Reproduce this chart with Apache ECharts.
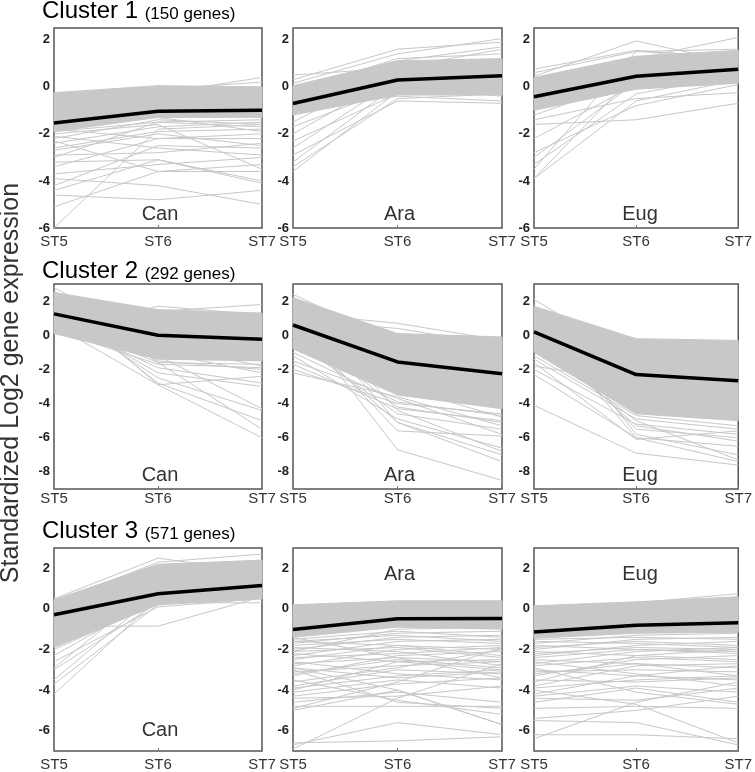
<!DOCTYPE html>
<html><head><meta charset="utf-8">
<script src="https://cdn.jsdelivr.net/npm/echarts/dist/echarts.min.js"></script>
<style>html,body{margin:0;padding:0;background:#fff}#c{width:755px;height:772px}</style>
</head><body><div id="c"></div>
<script>
// ---------- data ----------
const categories = ['ST5', 'ST6', 'ST7'];
const clusterTitles = ['Cluster 1', 'Cluster 2', 'Cluster 3'];
const geneCounts = ['(150 genes)', '(292 genes)', '(571 genes)'];
const tissues = ['Can', 'Ara', 'Eug'];
const yTickLabels = [[-6, -4, -2, 0, 2], [-8, -6, -4, -2, 0, 2], [-6, -4, -2, 0, 2]];
const rowMin = [-6, -9, -7];
const rowMax = [2.5, 3, 3];

// Cluster 1
const mean_c1_can = [-1.54, -1.04, -1.0];
const lo_c1_can = [-1.9, -1.3, -1.3];
const hi_c1_can = [-0.25, 0.05, 0.0];
const lines_c1_can = [
  [-6.0, -1.8, -1.6], [-5.1, -3.6, -3.3], [-4.6, -4.8, -4.4], [-4.4, -3.1, -4.1],
  [-4.2, -2.5, -2.6], [-3.9, -4.2, -5.0], [-3.7, -3.3, -3.0], [-3.4, -2.2, -2.0],
  [-3.2, -3.1, -4.0], [-2.9, -2.8, -2.4], [-2.6, -1.9, -1.8], [-2.3, -3.6, -3.6],
  [-2.1, -2.6, -2.9], [-2.0, -1.6, -3.5], [-1.8, -2.2, -2.2], [-1.2, -0.3, 0.4],
  [-1.6, -1.3, -1.9], [-0.5, -0.1, 0.2], [-1.9, -1.5, -1.4], [-2.4, -1.7, -1.5],
  [-2.2, -1.4, -1.6], [-2.7, -2.0, -2.5], [-3.0, -1.5, -1.7]
];
const mean_c1_ara = [-0.71, 0.29, 0.47];
const lo_c1_ara = [-1.2, -0.35, -0.35];
const hi_c1_ara = [0.05, 1.1, 1.2];
const lines_c1_ara = [
  [-3.6, -0.2, 0.3], [-3.4, -0.5, -0.3], [-3.2, 0.1, 0.6], [-2.9, -0.6, -0.7],
  [-2.6, 0.3, 0.2], [-2.3, -0.3, 0.0], [-2.0, 0.5, 1.2], [-1.7, 0.0, -0.4],
  [-1.5, 0.8, 1.6], [0.5, 0.8, 0.5], [0.3, 1.6, 1.9], [0.15, 1.4, 2.05],
  [0.0, 1.1, 1.7], [-0.2, 1.2, 1.4], [-1.0, -0.4, -0.6], [-0.6, 0.9, 1.0]
];
const mean_c1_eug = [-0.42, 0.45, 0.75];
const lo_c1_eug = [-1.0, -0.1, 0.15];
const hi_c1_eug = [0.4, 1.3, 1.55];
const lines_c1_eug = [
  [-3.9, 0.6, 1.0], [-3.9, -0.6, 0.3], [-3.5, 1.5, 1.3], [-3.3, -0.3, 0.5],
  [-3.0, 0.2, 0.8], [-2.8, -0.8, 0.1], [-2.2, 0.1, 0.4], [-1.6, -1.4, -0.7],
  [-1.4, -0.5, -0.25], [-1.2, 0.3, 0.6], [0.75, 1.55, 1.2], [0.6, 1.5, 1.6],
  [0.45, 1.95, 1.0], [0.2, 1.2, 2.1], [-0.8, 0.6, 1.4]
];

// Cluster 2
const mean_c2_can = [1.25, 0.0, -0.24];
const lo_c2_can = [0.1, -1.4, -1.5];
const hi_c2_can = [2.5, 1.5, 1.3];
const lines_c2_can = [
  [2.8, -0.6, -1.8], [2.6, -1.6, -5.5], [2.3, -2.9, -6.0], [2.0, -2.8, -5.0],
  [1.8, -1.2, -4.3], [1.5, -2.5, -4.4], [1.2, -2.2, -3.0], [0.9, -1.9, -2.8],
  [0.6, -2.9, -2.4], [0.3, -1.7, -1.9], [0.1, 1.7, 1.2], [0.4, 1.4, 1.8],
  [0.2, -1.0, -2.2], [2.2, 0.5, -0.8], [1.6, -1.5, -2.0], [0.8, -1.6, -1.7]
];
const mean_c2_ara = [0.6, -1.56, -2.26];
const lo_c2_ara = [-0.8, -3.5, -4.3];
const hi_c2_ara = [2.2, 0.1, -0.1];
const lines_c2_ara = [
  [2.2, -4.4, -6.8], [1.8, -5.1, -7.4], [1.2, -6.7, -8.5], [0.8, -5.6, -5.9],
  [0.2, -5.1, -7.0], [-0.3, -4.6, -5.5], [-1.2, -4.9, -6.6], [-1.5, -3.7, -5.8],
  [-1.7, -4.3, -5.0], [-2.0, -4.0, -4.6], [-2.2, -3.6, -5.3], [1.3, 0.7, -0.3],
  [0.9, 0.4, -0.6], [1.1, -3.0, -4.8], [2.4, -0.5, -1.2], [-1.0, -3.9, -4.7],
  [0.5, -4.2, -5.1]
];
const mean_c2_eug = [0.2, -2.3, -2.67];
const lo_c2_eug = [-1.0, -4.6, -5.0];
const hi_c2_eug = [1.7, -0.2, -0.3];
const lines_c2_eug = [
  [-4.1, -6.9, -7.6], [-2.3, -6.0, -7.4], [-2.0, -5.2, -5.8], [-1.6, -6.1, -5.6],
  [1.8, -5.8, -7.0], [1.0, -6.0, -6.5], [0.5, -5.5, -6.0], [-0.5, -5.0, -7.3],
  [-1.2, -4.7, -5.3], [2.1, -1.5, -2.0], [-1.8, -2.8, -3.5], [-1.4, -4.9, -5.5],
  [0.0, -5.3, -6.2]
];

// Cluster 3
const mean_c3_can = [-0.29, 0.75, 1.15];
const lo_c3_can = [-1.9, 0.2, 0.5];
const hi_c3_can = [0.45, 2.2, 2.4];
const lines_c3_can = [
  [-4.2, 0.5, 0.9], [-3.7, 0.2, 1.1], [-3.5, 0.8, 1.4], [-3.0, 0.3, 0.7],
  [-2.9, 1.2, 1.6], [-2.6, 0.1, 0.5], [-0.85, -0.85, 0.6], [-2.0, 0.3, 0.3],
  [0.5, 2.5, 1.8], [0.3, 2.3, 2.7], [-0.5, 2.1, 2.4], [-2.3, 0.6, 1.0]
];
const mean_c3_ara = [-1.02, -0.49, -0.47];
const lo_c3_ara = [-1.4, -0.9, -1.0];
const hi_c3_ara = [0.2, 0.4, 0.4];
const lines_c3_ara = [
  [-6.9, -4.4, -2.7], [-6.7, -5.6, -6.2], [-6.6, -6.5, -6.3], [-5.0, -4.0, -5.7],
  [-4.8, -4.8, -4.8], [-4.6, -4.1, -4.6], [-4.4, -4.3, -3.8], [-4.3, -3.7, -3.4],
  [-4.0, -2.6, -2.5], [-3.8, -3.0, -3.2], [-3.5, -4.5, -5.2], [-3.3, -2.3, -2.1],
  [-3.1, -2.8, -2.6], [-3.0, -4.6, -4.9], [-2.8, -2.0, -1.8], [-2.6, -3.2, -3.5],
  [-2.5, -1.8, -2.3], [-2.3, -1.6, -1.5], [-2.2, -2.6, -3.0], [-2.0, -1.4, -1.3],
  [-1.9, -2.1, -2.8], [-1.7, -1.2, -1.1], [-1.6, -1.8, -2.0], [-1.5, -1.1, -1.4],
  [-4.9, -3.6, -1.9], [-2.9, -4.0, -5.7], [-1.4, -2.4, -3.4], [-2.1, -1.0, -0.9],
  [-3.6, -2.9, -2.0], [-1.8, -1.5, -1.7], [-2.4, -2.2, -1.9], [-2.7, -2.4, -2.6],
  [-3.2, -2.5, -2.9], [-2.1, -1.9, -2.4], [-1.6, -1.3, -1.6], [-3.9, -3.3, -3.0],
  [-2.9, -3.4, -3.1], [-4.1, -3.5, -3.9]
];
const mean_c3_eug = [-1.14, -0.81, -0.68];
const lo_c3_eug = [-1.45, -1.2, -1.15];
const hi_c3_eug = [0.15, 0.35, 0.6];
const lines_c3_eug = [
  [-6.4, -4.6, -3.6], [-6.2, -6.2, -6.4], [-5.5, -5.6, -6.7], [-5.4, -5.0, -4.3],
  [-4.9, -4.8, -4.9], [-4.6, -3.9, -4.6], [-4.4, -4.5, -3.9], [-4.2, -3.3, -3.5],
  [-4.0, -4.7, -6.6], [-3.8, -2.8, -2.7], [-3.5, -3.6, -3.4], [-3.3, -2.5, -2.3],
  [-3.1, -3.0, -3.1], [-2.9, -4.1, -4.7], [-2.7, -2.1, -1.9], [-2.5, -2.7, -2.9],
  [-2.3, -1.8, -1.6], [-2.1, -2.3, -2.5], [-2.0, -1.5, -1.4], [-1.8, -2.0, -2.2],
  [-1.7, -1.3, -1.2], [-1.6, -1.7, -1.9], [-2.6, -3.2, -3.8], [-3.6, -2.3, -2.0],
  [0.1, 0.3, 0.75], [-1.9, -1.6, -1.8], [-2.4, -2.0, -2.1], [-2.8, -2.4, -2.6],
  [-3.2, -2.7, -3.3], [-2.2, -1.9, -2.0], [-1.5, -1.4, -1.5], [-3.9, -3.5, -3.3],
  [-3.0, -3.3, -2.8], [-4.3, -3.8, -4.1]
];

// ---------- layout ----------
const colLeft = [54, 293, 534];
const colWidth = [208, 209, 208];
const rowTop = [28, 284, 548];
const rowHeight = [200, 205, 204];
const xLabelMargin = [6, 2, 6];
const titleY = [11, 271, 531];
const tissueLabelY = [[214, 214, 214], [475, 475, 475], [730, 574, 574]];

const panels = [
  [mean_c1_can, lo_c1_can, hi_c1_can, lines_c1_can],
  [mean_c1_ara, lo_c1_ara, hi_c1_ara, lines_c1_ara],
  [mean_c1_eug, lo_c1_eug, hi_c1_eug, lines_c1_eug],
  [mean_c2_can, lo_c2_can, hi_c2_can, lines_c2_can],
  [mean_c2_ara, lo_c2_ara, hi_c2_ara, lines_c2_ara],
  [mean_c2_eug, lo_c2_eug, hi_c2_eug, lines_c2_eug],
  [mean_c3_can, lo_c3_can, hi_c3_can, lines_c3_can],
  [mean_c3_ara, lo_c3_ara, hi_c3_ara, lines_c3_ara],
  [mean_c3_eug, lo_c3_eug, hi_c3_eug, lines_c3_eug]
];

const GRAY = '#c8c8c8';
const TEXT = '#333';
const tickFont = "'Liberation Sans Narrow', 'Arial Narrow', 'Liberation Sans', Arial, sans-serif";
const mainFont = "'Liberation Sans', Arial, Helvetica, sans-serif";

const grids = [], xAxes = [], yAxes = [], series = [], graphics = [];

function makeBand(lo, hi) {
  return function (params, api) {
    const i = api.value(0);
    const pts = [
      api.coord([i, hi[i]]), api.coord([i + 1, hi[i + 1]]),
      api.coord([i + 1, lo[i + 1]]), api.coord([i, lo[i]])
    ];
    return { type: 'polygon', shape: { points: pts }, style: { fill: GRAY, stroke: GRAY, lineWidth: 1, lineJoin: 'round' } };
  };
}

panels.forEach((p, idx) => {
  const r = Math.floor(idx / 3), c = idx % 3;
  const [mean, lo, hi, lines] = p;
  const labels = yTickLabels[r];
  grids.push({
    left: colLeft[c], top: rowTop[r], width: colWidth[c], height: rowHeight[r],
    show: true, borderColor: '#555', borderWidth: 1.5, backgroundColor: 'transparent'
  });
  xAxes.push({
    type: 'category', gridIndex: idx, data: categories, boundaryGap: false, position: 'bottom',
    axisLine: { show: false, onZero: false },
    axisTick: { show: true, inside: true, length: 3, lineStyle: { color: '#777' } },
    axisLabel: { color: TEXT, fontSize: 15, fontFamily: mainFont, margin: xLabelMargin[r] },
    splitLine: { show: false }
  });
  yAxes.push({
    type: 'value', gridIndex: idx, min: rowMin[r], max: rowMax[r], interval: 1,
    axisLine: { show: false, onZero: false }, axisTick: { show: false }, splitLine: { show: false },
    axisLabel: {
      color: '#222', fontSize: 13, fontWeight: 'bold', fontFamily: tickFont, margin: 4,
      formatter: v => (labels.indexOf(v) >= 0 ? String(v) : '')
    }
  });
  series.push({
    type: 'custom', xAxisIndex: idx, yAxisIndex: idx, silent: true, z: 1,
    renderItem: makeBand(lo, hi), data: [[0, lo[0]], [1, lo[1]]]
  });
  series.push({
    type: 'lines', coordinateSystem: 'cartesian2d', xAxisIndex: idx, yAxisIndex: idx,
    polyline: true, silent: true, z: 2,
    lineStyle: { color: GRAY, width: 1, opacity: 1 },
    data: lines.map(l => ({ coords: l.map((v, k) => [k, v]) }))
  });
  series.push({
    type: 'line', xAxisIndex: idx, yAxisIndex: idx, data: mean, symbol: 'none',
    silent: true, z: 3, lineStyle: { color: '#000', width: 3.5, join: 'round' }
  });
  graphics.push({
    type: 'text', x: colLeft[c] + colWidth[c] / 2 + 2, y: tissueLabelY[r][c], z: 10,
    style: { text: tissues[c], font: '20px ' + mainFont, fill: TEXT, textAlign: 'center', textVerticalAlign: 'middle' }
  });
});

clusterTitles.forEach((t, r) => {
  graphics.push({
    type: 'text', x: 42, y: titleY[r], z: 10,
    style: {
      text: '{a|' + t + ' }{b|' + geneCounts[r] + '}',
      textVerticalAlign: 'middle',
      rich: {
        a: { fontSize: 24, fontFamily: mainFont, color: TEXT, lineHeight: 24, verticalAlign: 'bottom' },
        b: { fontSize: 17, fontFamily: mainFont, color: TEXT, lineHeight: 24, verticalAlign: 'bottom' }
      }
    }
  });
});

graphics.push({
  type: 'text', x: 11, y: 383, rotation: Math.PI / 2, z: 10,
  style: {
    text: 'Standardized Log2 gene expression', font: '25px ' + mainFont, fill: TEXT,
    textAlign: 'center', textVerticalAlign: 'middle'
  }
});

const chart = echarts.init(document.getElementById('c'), null, { renderer: 'canvas' });
chart.setOption({
  animation: false,
  backgroundColor: '#fff',
  grid: grids, xAxis: xAxes, yAxis: yAxes, series: series, graphic: graphics
});
</script></body></html>
